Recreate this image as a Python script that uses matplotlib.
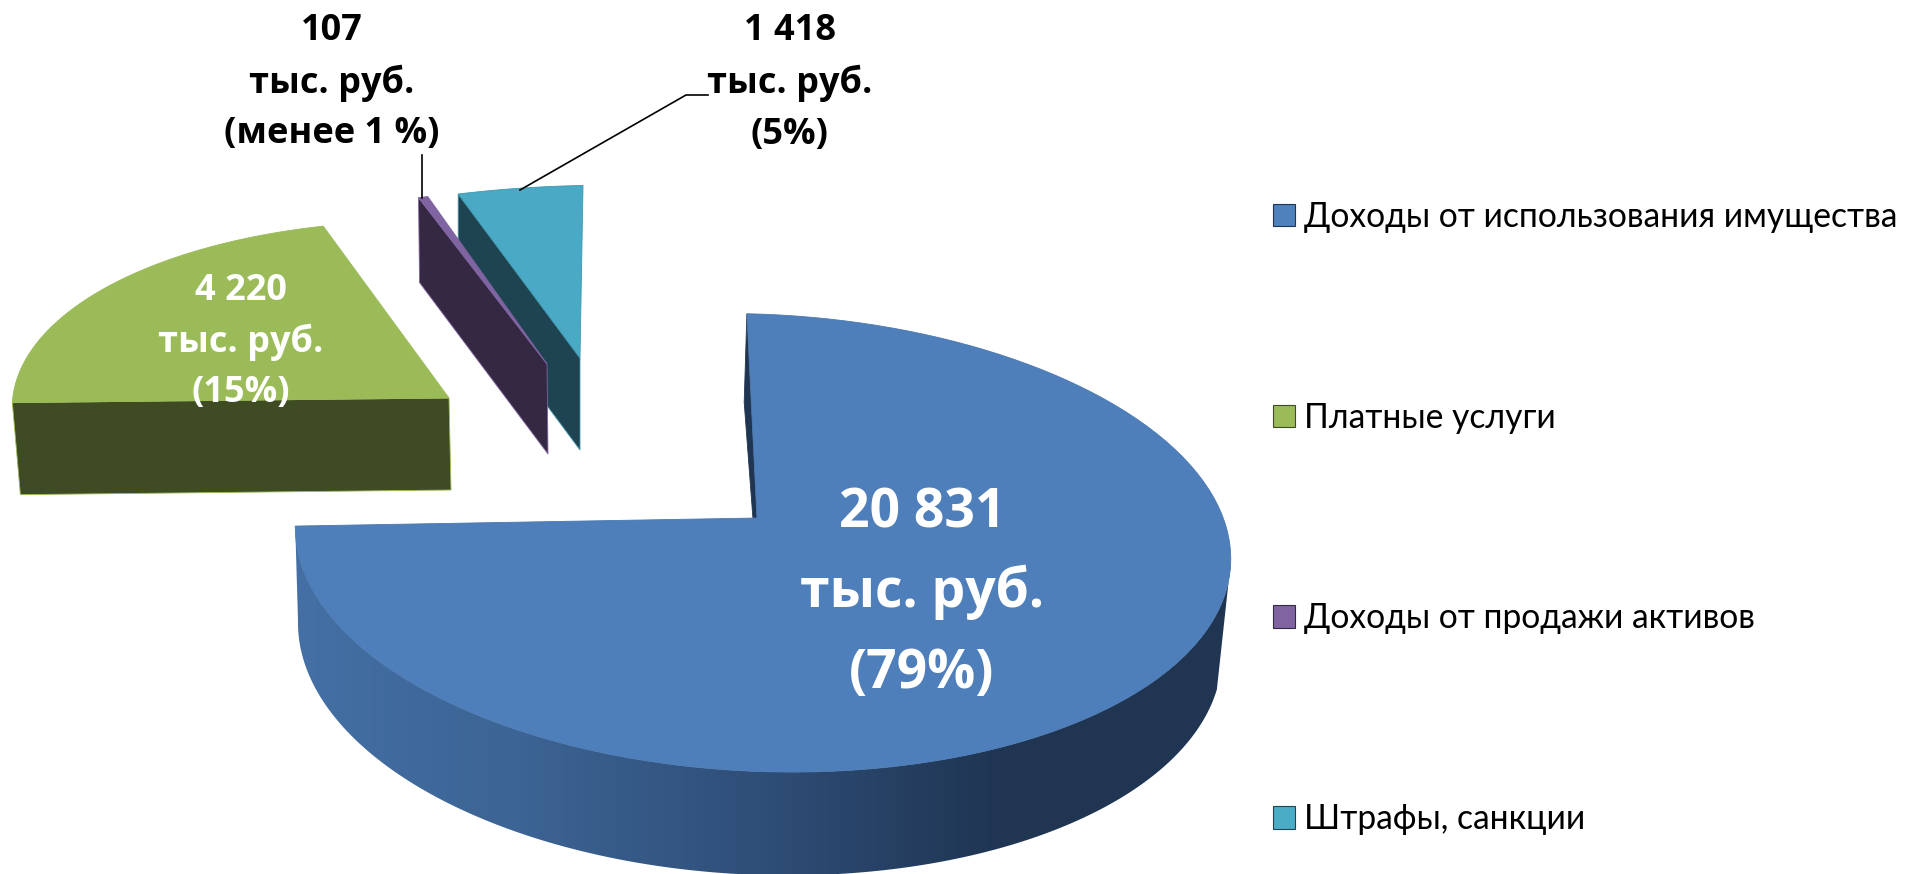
import numpy as np
import matplotlib
matplotlib.use("Agg")
import matplotlib.pyplot as plt
from matplotlib.patches import Polygon, Patch
from matplotlib.colors import to_rgb

categories = ["Доходы от использования имущества", "Платные услуги", "Доходы от продажи активов", "Штрафы, санкции"]
values = [20831, 4220, 107, 1418]
value_text = ["20 831", "4 220", "107", "1 418"]
share_text = ["(79%)", "(15%)", "(менее 1 %)", "(5%)"]
unit_text = "тыс. руб."

top_colors = ["#4f7fba", "#9bbb59", "#8064a2", "#4aa9c4"]
wall_colors = ["#1f3552", "#3f4c23", "#352842", "#1f4451"]
edge_colors = ["#4a78b0", "#9bbb59", "#8064a2", "#3f97ae"]
legend_colors = ["#4f81bd", "#9bbb59", "#8064a2", "#4bacc6"]

# the 3d view squeezes angles a bit, knots
share_knots = [0, 282.2, 339.3, 360]
view_knots = [-2.2, 264, 339.6, 357]

# x0, y0, A, B, k, S, T for upper and lower plane of each slice
top_planes = [(763, 518, 465, 226, 0.109, 0, 16), (449, 398, 433, 194, 0.1, 14, 16),
              (547, 364, 490, 194, 0.1, 32, 0), (580, 358, 490, 190, 0.1, 29, 0)]
low_planes = [(760, 612, 459, 233, 0.114, 0, 16), (451, 490, 427, 194, 0.1, 14, 16),
              (548, 454, 490, 200, 0.1, 32, 0), (580, 450, 490, 190, 0.1, 29, 0)]
top_apex = [(757, 518), (449, 398), (547, 364), (580, 358)]
low_apex = [(760, 612), (451, 490), (548, 454), (580, 450)]


def rim(plane, ang):
    x0, y0, A, B, k, S, T = plane
    t = np.radians(ang)
    u, v = np.sin(t), np.cos(t)
    w = 1 + k * v
    return np.column_stack([x0 + (A * u + S * v) / w, y0 - B * v / w + T * u])


def wedge(i, a, b):
    pts = rim(top_planes[i], np.linspace(a, b, 120))
    return np.vstack([[top_apex[i]], pts])


def cut_face(i, ang):
    return np.vstack([[top_apex[i]], rim(top_planes[i], [ang]), rim(low_planes[i], [ang]), [low_apex[i]]])


fig = plt.figure(figsize=(19.19, 8.74), dpi=100)
ax = fig.add_axes([0, 0, 1, 1])
ax.axis("off")

edges = np.cumsum([0] + values) / sum(values) * 360
angles = np.interp(edges, share_knots, view_knots)

# teal, purple, green are exploded, draw back to front
for i, ang in [(3, angles[3]), (2, angles[2]), (1, angles[1])]:
    ax.add_patch(Polygon(cut_face(i, ang), fc=wall_colors[i], ec=edge_colors[i], lw=0.6))
    ax.add_patch(Polygon(wedge(i, angles[i], angles[i + 1]), fc=top_colors[i], ec=edge_colors[i], lw=0.6))

# big slice: small cut face at the back, shaded wall, then the top
ax.add_patch(Polygon(cut_face(0, angles[0]), fc=wall_colors[0], ec=wall_colors[0], lw=0.6))
wall = np.vstack([rim(top_planes[0], np.linspace(97, angles[1], 200)),
                  rim(low_planes[0], np.linspace(angles[1], 105, 200))])
wall_patch = Polygon(wall, fc="none", ec="none")
ax.add_patch(wall_patch)
xs = np.arange(280, 1240)
shade = np.column_stack([np.interp(xs, [297, 520, 760, 1000, 1240], [c1, c2, c3, c4, c4])
                         for c1, c2, c3, c4 in zip(to_rgb("#4470a5"), to_rgb("#3c6494"), to_rgb("#2f4e78"), to_rgb("#1f3552"))])
im = ax.imshow(shade[np.newaxis, :, :], extent=(280, 1240, 900, 300), aspect="auto", zorder=1)
im.set_clip_path(wall_patch)
ax.add_patch(Polygon(wedge(0, angles[0], angles[1]), fc=top_colors[0], ec=edge_colors[0], lw=0.6, zorder=2))

ax.set_xlim(0, 1919)
ax.set_ylim(874, 0)

# leader lines
ax.plot([422, 422], [155, 198], color="black", lw=1.2, zorder=3)
ax.plot([520, 686, 708], [190, 95, 95], color="black", lw=1.2, zorder=3)

font = ["Lato", "DejaVu Sans"]
bold_font = ["Open Sans", "DejaVu Sans"]
label_pos = [(922, [513, 592, 674], 38.5, "white"), (241, [291, 342, 393], 26, "white"),
             (332, [31, 83, 134], 26, "black"), (790, [31, 83, 135], 26, "black")]
for i, (x, ys, size, col) in enumerate(label_pos):
    for y, s in zip(ys, [value_text[i], unit_text, share_text[i]]):
        ax.text(x, y, s, ha="center", va="center", fontsize=size, fontweight="bold",
                color=col, family=bold_font, zorder=4)

handles = [Patch(fc=c, ec=wall_colors[i], lw=0.8) for i, c in enumerate(legend_colors)]
ax.legend(handles, categories, loc="upper left", bbox_to_anchor=(1273 / 1919, 1 - 201 / 874), frameon=False,
          prop={"family": font, "size": 24.2}, handlelength=0.65, handleheight=0.65, handletextpad=0.28,
          labelspacing=5.02, borderpad=0, borderaxespad=0)

fig.savefig("out.png", dpi=100)
